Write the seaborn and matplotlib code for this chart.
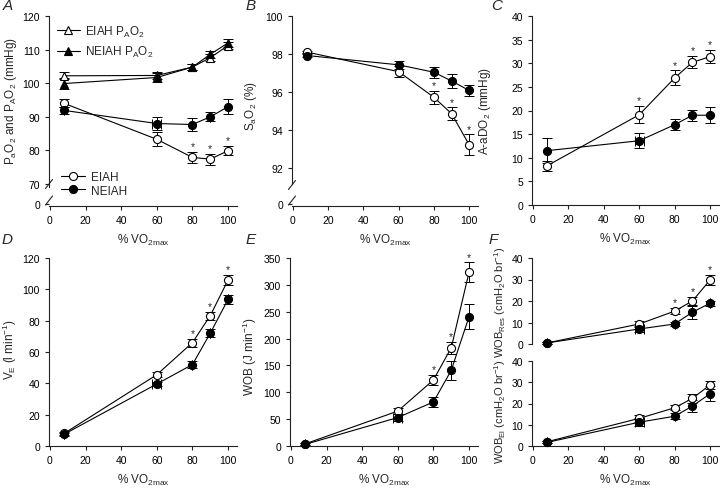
import numpy as np
import pandas as pd
import matplotlib
matplotlib.use("Agg")
import matplotlib.pyplot as plt
import seaborn as sns

# ---------------- data ----------------
pct_vo2 = [8, 60, 80, 90, 100]
xticks = [0, 20, 40, 60, 80, 100]
group_names = ["EIAH", "NEIAH"]

# A: PaO2 and PAO2 (mmHg)
eiah_pao2 = [94.0, 83.3, 77.9, 77.4, 79.9]
eiah_pao2_err = [1.2, 2.1, 1.7, 1.6, 1.4]
neiah_pao2 = [91.9, 88.0, 87.7, 90.0, 93.0]
neiah_pao2_err = [1.0, 2.0, 2.0, 1.4, 2.2]
eiah_pAo2 = [102.2, 102.3, 104.8, 107.6, 111.2]
eiah_pAo2_err = [1.0, 1.0, 0.8, 1.0, 1.0]
neiah_pAo2 = [99.9, 101.7, 104.8, 108.6, 112.0]
neiah_pAo2_err = [1.5, 1.2, 1.0, 1.0, 1.2]
a_stars = [0, 0, 1, 1, 1]

# B: SaO2 (%)
eiah_sao2 = [98.1, 97.07, 95.72, 94.86, 93.22]
eiah_sao2_err = [0.05, 0.3, 0.35, 0.33, 0.55]
neiah_sao2 = [97.92, 97.43, 97.04, 96.58, 96.08]
neiah_sao2_err = [0.1, 0.2, 0.28, 0.35, 0.3]
b_stars = [0, 0, 1, 1, 1]

# C: A-aDO2 (mmHg)
eiah_aado2 = [8.3, 19.1, 26.9, 30.2, 31.4]
eiah_aado2_err = [1.0, 1.8, 1.6, 1.3, 1.4]
neiah_aado2 = [11.5, 13.6, 17.0, 19.0, 19.0]
neiah_aado2_err = [2.6, 1.6, 1.1, 1.2, 1.7]
c_stars = [0, 1, 1, 1, 1]

# D: VE (l/min)
eiah_ve = [8.0, 45.5, 66.0, 83.2, 106.0]
eiah_ve_err = [1.0, 1.5, 2.5, 2.5, 3.0]
neiah_ve = [7.5, 39.6, 52.0, 72.0, 93.6]
neiah_ve_err = [1.0, 1.5, 2.0, 2.5, 3.0]
d_stars = [0, 0, 1, 1, 1]

# E: WOB (J/min)
eiah_wob = [4, 65, 123, 183, 324]
eiah_wob_err = [2, 5, 9, 11, 18]
neiah_wob = [3, 53, 82, 141, 241]
neiah_wob_err = [2, 7, 10, 18, 24]
e_stars = [0, 0, 1, 1, 1]

# F: WOB resistive and elastic (cmH2O/br)
eiah_res = [0.5, 9.3, 15.3, 20.0, 29.8]
eiah_res_err = [0.5, 1.2, 1.5, 2.0, 2.3]
neiah_res = [0.5, 7.0, 9.3, 14.8, 19.0]
neiah_res_err = [0.5, 1.5, 1.0, 3.0, 1.2]
f_stars = [0, 0, 1, 1, 1]
eiah_el = [2.0, 13.0, 18.0, 22.4, 28.8]
eiah_el_err = [0.5, 1.5, 1.2, 2.0, 2.0]
neiah_el = [1.7, 11.2, 14.0, 18.8, 24.6]
neiah_el_err = [0.5, 2.0, 1.5, 3.0, 3.5]

# horizontal (x) spread of the NEIAH 60 % stage
neiah_xerr = [0, 2.5, 0, 0, 0]

# ---------------- style ----------------
sns.set_style("ticks")
plt.rcParams["font.family"] = ["Liberation Sans", "DejaVu Sans"]
plt.rcParams.update({
    "mathtext.fontset": "custom",
    "mathtext.rm": "Liberation Sans",
    "mathtext.it": "Liberation Sans:italic",
    "mathtext.bf": "Liberation Sans:bold",
    "mathtext.sf": "Liberation Sans",
    "font.size": 7.5,
    "axes.linewidth": 0.8,
    "axes.edgecolor": "#222222",
    "xtick.major.size": 3,
    "ytick.major.size": 3,
    "xtick.major.width": 0.8,
    "ytick.major.width": 0.8,
    "xtick.labelsize": 7.5,
    "ytick.labelsize": 7.5,
    "xtick.color": "#222222",
    "ytick.color": "#222222",
    "xtick.labelcolor": "black",
    "ytick.labelcolor": "black",
    "xtick.direction": "out",
    "ytick.direction": "out",
})
LAB = 8.5

W, H = 720, 489
fig = plt.figure(figsize=(7.2, 4.89), dpi=100)


def add_ax(l, t, r, b):
    return fig.add_axes([l / W, 1 - b / H, (r - l) / W, (b - t) / H])


def series(ax, y, err, filled, marker="o", xerr=None, ms=5.8):
    df = pd.DataFrame({"x": pct_vo2, "y": y})
    ax.errorbar(pct_vo2, y, yerr=err, xerr=xerr, fmt="none", ecolor="black",
                elinewidth=0.7, capsize=3.3, capthick=0.7, zorder=2)
    sns.lineplot(data=df, x="x", y="y", ax=ax, color="black", lw=0.8,
                 marker=marker, ms=ms, mfc="black" if filled else "white",
                 mec="black", mew=0.8, zorder=3, legend=False, errorbar=None,
                 clip_on=False)
    return ax.lines[-1]


def stars(ax, y, err, flags):
    for xi, yi, ei, f in zip(pct_vo2, y, err, flags):
        if f:
            ax.annotate("*", (xi, yi + ei), xytext=(0, 0.5),
                        textcoords="offset points", ha="center", va="bottom",
                        fontsize=7.5)


def base(ax, xlabel=True):
    ax.set_xlim(-0.5, 105)
    ax.set_xticks(xticks)
    sns.despine(ax=ax)
    ax.set_xlabel("% VO$_{\\mathrm{2max}}$" if xlabel else "", fontsize=LAB,
                  labelpad=5)
    ax.set_ylabel("")


def breaks(ax, w_px, h_px, ys_px):
    dx = 3.5 / w_px
    dy = 4.5 / h_px
    for yp in ys_px:
        yf = yp / h_px
        ax.plot([-dx, dx], [yf - dy, yf + dy], transform=ax.transAxes,
                color="#222222", lw=0.8, clip_on=False)


# ---------------- A ----------------
axA = add_ax(49, 17, 237, 207)
hE = series(axA, eiah_pao2, eiah_pao2_err, False)
hN = series(axA, neiah_pao2, neiah_pao2_err, True, xerr=neiah_xerr)
hA1 = series(axA, eiah_pAo2, eiah_pAo2_err, False, marker="^", ms=5.5)
hA2 = series(axA, neiah_pAo2, neiah_pAo2_err, True, marker="^", ms=5.5)
stars(axA, eiah_pao2, eiah_pao2_err, a_stars)
base(axA)
axA.set_ylim(63.45, 120)
axA.set_yticks([64.05, 70, 80, 90, 100, 110, 120])
axA.set_yticklabels(["0", "70", "80", "90", "100", "110", "120"])
axA.spines["left"].set_bounds(69.0, 120)
breaks(axA, 188, 190, [22, 5.5])
axA.set_ylabel("P$_{\\mathrm{a}}$O$_{2}$ and P$_{\\mathrm{A}}$O$_{2}$ (mmHg)",
               fontsize=LAB)
axA.yaxis.set_label_coords(-0.16, 0.56)
leg1 = axA.legend([hA1, hA2],
                  ["EIAH P$_{\\mathrm{A}}$O$_{2}$", "NEIAH P$_{\\mathrm{A}}$O$_{2}$"],
                  loc="upper left", bbox_to_anchor=(0.04, 0.96), frameon=False,
                  borderpad=0, borderaxespad=0, handlelength=2.0,
                  handletextpad=0.45, labelspacing=0.45, fontsize=LAB)
axA.add_artist(leg1)
axA.legend([hE, hN], group_names, loc="upper left",
           bbox_to_anchor=(0.065, 0.185), frameon=False, borderpad=0,
           borderaxespad=0, handlelength=2.0, handletextpad=0.55,
           labelspacing=0.15, fontsize=LAB)

# ---------------- B ----------------
axB = add_ax(292, 17, 478, 207)
series(axB, eiah_sao2, eiah_sao2_err, False)
series(axB, neiah_sao2, neiah_sao2_err, True)
stars(axB, eiah_sao2, eiah_sao2_err, b_stars)
base(axB)
axB.set_ylim(90.0, 100)
axB.set_yticks([90.1, 92, 94, 96, 98, 100])
axB.set_yticklabels(["0", "92", "94", "96", "98", "100"])
axB.spines["left"].set_bounds(91.15, 100)
breaks(axB, 186, 190, [21, 5.5])
axB.set_ylabel("S$_{\\mathrm{a}}$O$_{2}$ (%)", fontsize=LAB)
axB.yaxis.set_label_coords(-0.18, 0.53)

# ---------------- C ----------------
axC = add_ax(532, 17, 719, 206)
series(axC, eiah_aado2, eiah_aado2_err, False)
series(axC, neiah_aado2, neiah_aado2_err, True, xerr=neiah_xerr)
stars(axC, eiah_aado2, eiah_aado2_err, c_stars)
base(axC)
axC.set_ylim(0, 40)
axC.set_yticks(range(0, 41, 5))
axC.set_ylabel("A-aDO$_{2}$ (mmHg)", fontsize=LAB)
axC.yaxis.set_label_coords(-0.21, 0.5)

# ---------------- D ----------------
axD = add_ax(49, 259, 237, 447)
series(axD, eiah_ve, eiah_ve_err, False)
series(axD, neiah_ve, neiah_ve_err, True, xerr=neiah_xerr)
stars(axD, eiah_ve, eiah_ve_err, d_stars)
base(axD)
axD.set_ylim(0, 120)
axD.set_yticks(range(0, 121, 20))
axD.set_ylabel("V$_{\\mathrm{E}}$ (l min$^{\\mathrm{-1}}$)", fontsize=LAB)
axD.yaxis.set_label_coords(-0.16, 0.52)

# ---------------- E ----------------
axE = add_ax(290, 259, 478, 447)
series(axE, eiah_wob, eiah_wob_err, False)
series(axE, neiah_wob, neiah_wob_err, True, xerr=neiah_xerr)
stars(axE, eiah_wob, eiah_wob_err, e_stars)
base(axE)
axE.set_ylim(0, 350)
axE.set_yticks(range(0, 351, 50))
axE.set_ylabel("WOB (J min$^{\\mathrm{-1}}$)", fontsize=LAB)
axE.yaxis.set_label_coords(-0.165, 0.48)

# ---------------- F ----------------
axF1 = add_ax(532, 259, 719, 345)
series(axF1, eiah_res, eiah_res_err, False)
series(axF1, neiah_res, neiah_res_err, True, xerr=neiah_xerr)
stars(axF1, eiah_res, eiah_res_err, f_stars)
axF1.set_xlim(-0.5, 105)
axF1.set_ylim(0, 40)
axF1.set_yticks(range(0, 41, 10))
sns.despine(ax=axF1, bottom=True)
axF1.set_xticks([])
axF1.set_xlabel("")
axF1.set_ylabel("")

axF2 = add_ax(532, 362, 719, 447)
series(axF2, eiah_el, eiah_el_err, False)
series(axF2, neiah_el, neiah_el_err, True, xerr=neiah_xerr)
base(axF2)
axF2.set_ylim(0, 40)
axF2.set_yticks(range(0, 41, 10))

fig.text(500 / W, 1 - 355 / H,
         "WOB$_{\\mathrm{El}}$ (cmH$_{2}$O br$^{\\mathrm{-1}}$) "
         "WOB$_{\\mathrm{Res}}$ (cmH$_{2}$O br$^{\\mathrm{-1}}$)",
         rotation=90, ha="center", va="center", fontsize=8)

# ---------------- panel letters ----------------
for lab, xp, yp in [("A", 3, -1), ("B", 246, -1), ("C", 491, -1),
                    ("D", 2, 233), ("E", 246, 233), ("F", 489, 233)]:
    fig.text(xp / W, 1 - yp / H, lab, fontsize=11, style="italic",
             ha="left", va="top")

fig.savefig("out.png", dpi=100)
